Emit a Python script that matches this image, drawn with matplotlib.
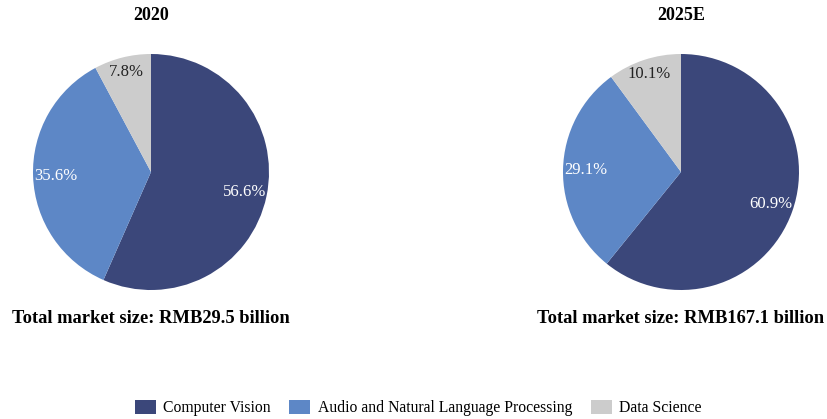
import matplotlib.pyplot as plt
from matplotlib.patches import Patch

plt.rcParams['font.family'] = ['Liberation Serif', 'DejaVu Serif']

segments = ["Computer Vision", "Audio and Natural Language Processing", "Data Science"]
colors = ["#3b477a", "#5d87c6", "#cccccc"]
label_colors = ["white", "white", "#222222"]

years = ["2020", "2025E"]
shares_2020 = [56.6, 35.6, 7.8]
shares_2025 = [60.9, 29.1, 10.1]
totals = ["RMB29.5 billion", "RMB167.1 billion"]

W, H = 827, 419
fig = plt.figure(figsize=(W / 100, H / 100), dpi=100)

# pie centres and radius in pixels
centres = [(151, 172), (681, 172)]
r = 118

for (cx, cy), year, shares, total in zip(centres, years, [shares_2020, shares_2025], totals):
    ax = fig.add_axes([(cx - r) / W, (H - cy - r) / H, 2 * r / W, 2 * r / H])
    wedges, texts, autotexts = ax.pie(
        shares, colors=colors, startangle=90, counterclock=False,
        autopct=lambda p: f"{p:.1f}%", pctdistance=0.81,
        textprops=dict(fontsize=12),
        wedgeprops=dict(linewidth=0),
    )
    for t, c, v in zip(autotexts, label_colors, shares):
        t.set_color(c)
        t.set_text(f"{v:.1f}%")
    # nudge the small slice label outward a bit
    x, y = autotexts[2].get_position()
    autotexts[2].set_position((x * 1.08, y * 1.08))
    ax.set_xlim(-1, 1)
    ax.set_ylim(-1, 1)
    ax.axis("off")

    fig.text(cx / W, 1 - 16 / H, year, ha="center", va="center",
             fontsize=13, fontweight="bold")
    fig.text(cx / W, 1 - 318 / H, f"Total market size: {total}", ha="center",
             va="center", fontsize=13.3, fontweight="bold")

handles = [Patch(facecolor=c, edgecolor="none") for c in colors]
fig.legend(handles, segments, loc="center", bbox_to_anchor=(418 / W, 1 - 408 / H),
           ncol=3, frameon=False, fontsize=11.3, handlelength=1.35, handleheight=1.0,
           handletextpad=0.45, columnspacing=1.2)

fig.savefig("out.png", dpi=100)
